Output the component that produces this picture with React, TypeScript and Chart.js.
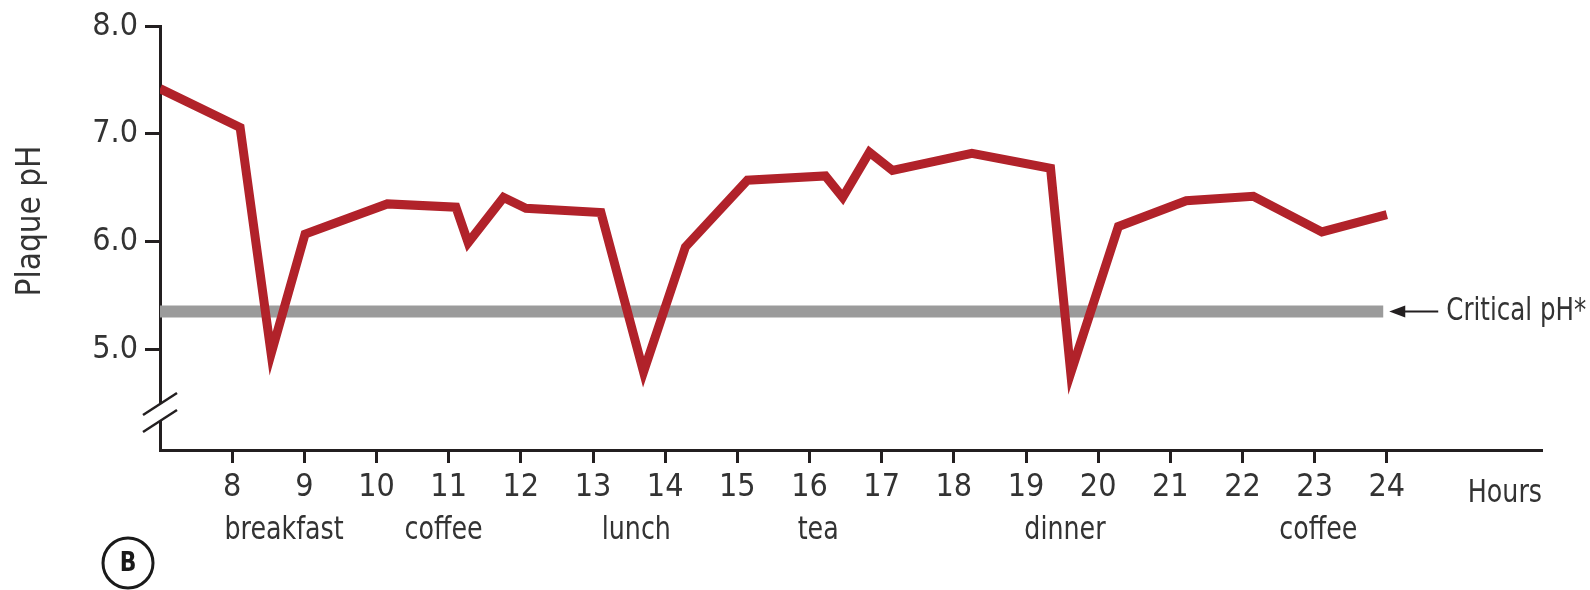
import React, { useEffect, useRef } from "react";
import { Chart, registerables } from "chart.js";

Chart.register(...registerables);

// ---- data ----
const hours = [7.0, 8.11, 8.54, 9.01, 10.15, 11.1, 11.27, 11.76, 12.07, 13.11, 13.7, 14.28, 15.14, 16.22, 16.46, 16.83, 17.15, 18.25, 19.34, 19.62, 20.28, 21.22, 22.15, 23.1, 24.0];
const plaquePH = [7.42, 7.06, 4.96, 6.07, 6.35, 6.32, 5.99, 6.41, 6.31, 6.27, 4.79, 5.95, 6.57, 6.61, 6.41, 6.83, 6.66, 6.82, 6.68, 4.78, 6.14, 6.38, 6.42, 6.09, 6.25];
const criticalPH = 5.35;
const criticalHours = [7.0, 23.95];
const hourTicks = [8, 9, 10, 11, 12, 13, 14, 15, 16, 17, 18, 19, 20, 21, 22, 23, 24];
const pHTicks = [5, 6, 7, 8];
const mealLabels = ["breakfast", "coffee", "lunch", "tea", "dinner", "coffee"];
const mealTimes = [8.72, 10.93, 13.6, 16.12, 19.54, 23.05];
const xAxisLabel = "Hours";
const yAxisLabel = "Plaque pH";
const criticalLabel = "Critical pH*";
const panelLetter = "B";

const FONT = '"DejaVu Sans Condensed", "Liberation Sans", Arial, sans-serif';
const TEXT = "#333333";
const AXIS = "#231f20";
const RED = "#b1222a";
const GRAY = "#9b9b9b";

function drawText(
  ctx: CanvasRenderingContext2D,
  s: string,
  x: number,
  y: number,
  align: CanvasTextAlign,
  sx: number
) {
  ctx.save();
  ctx.translate(x, y);
  ctx.scale(sx, 1);
  ctx.textAlign = align;
  ctx.fillText(s, 0, 0);
  ctx.restore();
}

const annotate = {
  id: "annotate",
  afterDraw(chart: any) {
    const ctx = chart.ctx as CanvasRenderingContext2D;
    const xs = chart.scales.x;
    const ys = chart.scales.y;
    const area = chart.chartArea;
    ctx.save();

    // y-axis break
    const bx = area.left;
    const b1 = area.bottom - 46;
    const b2 = area.bottom - 29;
    ctx.fillStyle = "#fff";
    ctx.fillRect(bx - 4, b1, 8, b2 - b1);
    ctx.strokeStyle = AXIS;
    ctx.lineWidth = 2.5;
    for (const yb of [b1, b2]) {
      ctx.beginPath();
      ctx.moveTo(bx - 17, yb + 11);
      ctx.lineTo(bx + 17, yb - 11);
      ctx.stroke();
    }

    // meal labels
    ctx.fillStyle = TEXT;
    ctx.font = `32px ${FONT}`;
    ctx.textBaseline = "alphabetic";
    mealLabels.forEach((lab, i) => {
      drawText(ctx, lab, xs.getPixelForValue(mealTimes[i]), 539, "center", 0.88);
    });

    // Hours
    drawText(ctx, xAxisLabel, area.right, 502, "right", 0.88);

    // y title
    ctx.save();
    ctx.font = `33px ${FONT}`;
    ctx.translate(31, 221);
    ctx.rotate(-Math.PI / 2);
    ctx.textAlign = "center";
    ctx.textBaseline = "middle";
    ctx.fillText(yAxisLabel, 0, 0);
    ctx.restore();

    // critical arrow + label
    const yc = ys.getPixelForValue(criticalPH);
    const tipX = xs.getPixelForValue(criticalHours[1]) + 6;
    ctx.strokeStyle = AXIS;
    ctx.fillStyle = AXIS;
    ctx.lineWidth = 2;
    ctx.beginPath();
    ctx.moveTo(tipX + 10, yc);
    ctx.lineTo(tipX + 49, yc);
    ctx.stroke();
    ctx.beginPath();
    ctx.moveTo(tipX, yc);
    ctx.lineTo(tipX + 16, yc - 6);
    ctx.lineTo(tipX + 16, yc + 6);
    ctx.closePath();
    ctx.fill();
    ctx.fillStyle = TEXT;
    ctx.font = `32px ${FONT}`;
    ctx.textBaseline = "middle";
    const w = ctx.measureText(criticalLabel).width;
    drawText(ctx, criticalLabel, tipX + 57, yc, "left", Math.min(1, 140 / w));

    // panel letter
    ctx.strokeStyle = "#1a1a1a";
    ctx.lineWidth = 3;
    ctx.beginPath();
    ctx.arc(128, 563, 25, 0, Math.PI * 2);
    ctx.stroke();
    ctx.fillStyle = "#1a1a1a";
    ctx.font = `bold 27px ${FONT}`;
    ctx.textBaseline = "middle";
    drawText(ctx, panelLetter, 128, 564, "center", 0.9);

    ctx.restore();
  },
};

export default function App() {
  const ref = useRef<HTMLCanvasElement | null>(null);

  useEffect(() => {
    if (!ref.current) return;
    const chart = new Chart(ref.current, {
      type: "line",
      data: {
        datasets: [
          {
            label: "Plaque pH",
            data: hours.map((h, i) => ({ x: h, y: plaquePH[i] })),
            borderColor: RED,
            borderWidth: 9,
            pointRadius: 0,
            tension: 0,
            borderJoinStyle: "miter",
            borderCapStyle: "butt",
            fill: false,
          },
          {
            label: "Critical pH",
            data: criticalHours.map((h) => ({ x: h, y: criticalPH })),
            borderColor: GRAY,
            borderWidth: 12,
            pointRadius: 0,
            borderCapStyle: "butt",
            fill: false,
          },
        ],
      },
      options: {
        responsive: false,
        animation: false,
        devicePixelRatio: 1,
        layout: { padding: { left: 0, top: 25, right: 48, bottom: 0 } },
        plugins: {
          legend: { display: false },
          tooltip: { enabled: false },
          title: { display: false },
        },
        scales: {
          x: {
            type: "linear",
            min: 7,
            max: 26.15,
            afterFit: (s: any) => {
              s.height = 140;
            },
            afterBuildTicks: (s: any) => {
              s.ticks = hourTicks.map((v) => ({ value: v }));
            },
            grid: {
              drawOnChartArea: false,
              drawTicks: true,
              tickLength: 13,
              tickWidth: 3,
              tickColor: AXIS,
            },
            border: { display: true, color: AXIS, width: 3 },
            ticks: {
              autoSkip: false,
              maxRotation: 0,
              padding: 5,
              color: TEXT,
              font: { family: FONT, size: 32 },
              callback: (v: any) => String(v),
            },
          },
          y: {
            type: "linear",
            min: 4.065,
            max: 8.0,
            afterFit: (s: any) => {
              s.width = 160;
            },
            afterBuildTicks: (s: any) => {
              s.ticks = pHTicks.map((v) => ({ value: v }));
            },
            grid: {
              drawOnChartArea: false,
              drawTicks: true,
              tickLength: 15,
              tickWidth: 3,
              tickColor: AXIS,
            },
            border: { display: true, color: AXIS, width: 3 },
            ticks: {
              padding: 7,
              color: TEXT,
              font: { family: FONT, size: 32 },
              callback: (v: any) => Number(v).toFixed(1),
            },
          },
        },
      },
      plugins: [annotate],
    });
    return () => chart.destroy();
  }, []);

  return (
    <div style={{ position: "absolute", left: 0, top: 0, width: 1590, height: 590, background: "#fff" }}>
      <canvas ref={ref} width={1590} height={590} style={{ display: "block" }} />
    </div>
  );
}
